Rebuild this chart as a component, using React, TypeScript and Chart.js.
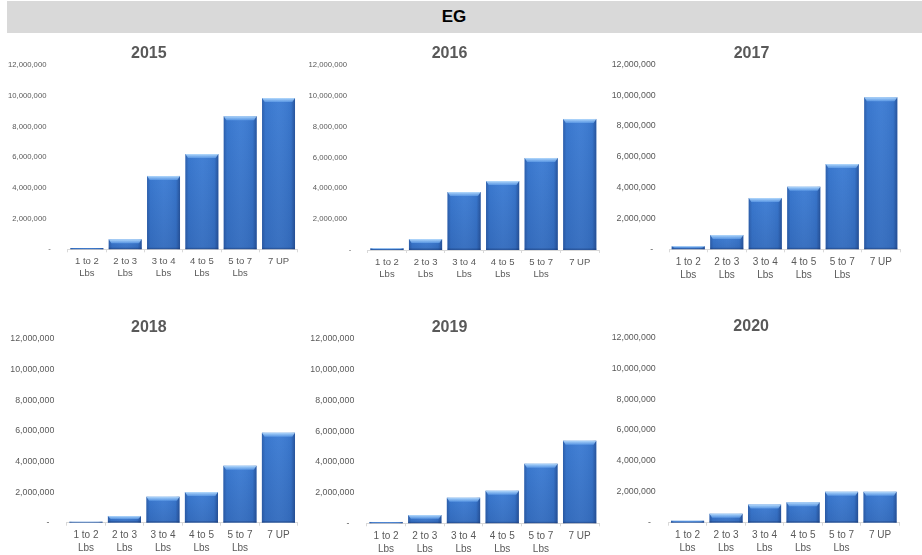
import React, { useEffect, useRef } from "react";
import { Chart, registerables } from "chart.js";

Chart.register(...registerables);

// ---------- data ----------
const headerTitle = "EG";
const categories: (string | string[])[] = [
  ["1 to 2", "Lbs"],
  ["2 to 3", "Lbs"],
  ["3 to 4", "Lbs"],
  ["4 to 5", "Lbs"],
  ["5 to 7", "Lbs"],
  "7 UP",
];
const years = ["2015", "2016", "2017", "2018", "2019", "2020"];
const values2015 = [80000, 650000, 4780000, 6200000, 8670000, 9850000];
const values2016 = [110000, 710000, 3760000, 4470000, 5970000, 8500000];
const values2017 = [190000, 930000, 3330000, 4060000, 5530000, 9860000];
const values2018 = [70000, 440000, 1700000, 2000000, 3720000, 5880000];
const values2019 = [90000, 540000, 1670000, 2120000, 3880000, 5380000];
const values2020 = [130000, 580000, 1170000, 1320000, 2000000, 2000000];
const seriesByYear = [values2015, values2016, values2017, values2018, values2019, values2020];
const yMin = 0;
const yMax = 12000000;
const yStep = 2000000;

// ---------- layout (positions / styles only) ----------
type Panel = {
  left: number; top: number; w: number; h: number;
  yWidth: number; yPad: number; padR: number;
  titleTop: number; titleBottom: number; baseline: number;
  yFont: number; xFont: number; numPad: string; dashPad: string;
};
const panels: Panel[] = [
  { left: 0, top: 40, w: 312, h: 245, yWidth: 67.7, yPad: 17, padR: 14.3, titleTop: 4.4, titleBottom: 1.4, baseline: 249.3, yFont: 7.7, xFont: 9.5, numPad: "  ", dashPad: "" },
  { left: 300, top: 40, w: 312, h: 245, yWidth: 67.7, yPad: 16.4, padR: 13, titleTop: 4.4, titleBottom: 1.4, baseline: 250, yFont: 7.7, xFont: 9.5, numPad: "  ", dashPad: "" },
  { left: 603, top: 40, w: 309, h: 245, yWidth: 66, yPad: 13.3, padR: 12, titleTop: 3.6, titleBottom: 1.5, baseline: 249.3, yFont: 8.8, xFont: 10, numPad: "", dashPad: " " },
  { left: 0, top: 310, w: 311, h: 245, yWidth: 66.7, yPad: 12.4, padR: 13.3, titleTop: 7.7, titleBottom: 2.1, baseline: 522.7, yFont: 8.8, xFont: 10, numPad: "", dashPad: "  " },
  { left: 300, top: 310, w: 311, h: 245, yWidth: 66.7, yPad: 12.4, padR: 12, titleTop: 7.7, titleBottom: 2.1, baseline: 523.3, yFont: 8.8, xFont: 10, numPad: "", dashPad: "  " },
  { left: 603, top: 310, w: 308, h: 245, yWidth: 65.3, yPad: 12.6, padR: 11.7, titleTop: 6.7, titleBottom: 1.4, baseline: 522.7, yFont: 8.8, xFont: 10, numPad: "", dashPad: "  " },
];

const FONT = "'Liberation Sans', Arial, sans-serif";
const BAR_COLOR = "#3b7bd3";
const TEXT_COLOR = "#595959";

const bevelPlugin = {
  id: "bevel",
  afterDatasetsDraw(chart: any) {
    const ctx = chart.ctx as CanvasRenderingContext2D;
    const meta = chart.getDatasetMeta(0);
    meta.data.forEach((bar: any) => {
      const { x, y, base, width } = bar.getProps(["x", "y", "base", "width"], true);
      const l = x - width / 2;
      const r = x + width / 2;
      const t = Math.min(y, base);
      const b = Math.max(y, base);
      const h = b - t;
      if (h < 0.5) return;
      ctx.save();
      // side shading
      const g = ctx.createLinearGradient(l, 0, r, 0);
      g.addColorStop(0, "rgba(20,45,100,0.35)");
      g.addColorStop(0.1, "rgba(20,45,100,0.05)");
      g.addColorStop(0.5, "rgba(255,255,255,0.04)");
      g.addColorStop(0.88, "rgba(20,45,100,0.08)");
      g.addColorStop(1, "rgba(20,45,100,0.5)");
      ctx.fillStyle = g;
      ctx.fillRect(l, t, width, h);
      // vertical darkening toward bottom
      const gv = ctx.createLinearGradient(0, t, 0, b);
      gv.addColorStop(0, "rgba(20,45,100,0)");
      gv.addColorStop(1, "rgba(20,45,100,0.18)");
      ctx.fillStyle = gv;
      ctx.fillRect(l, t, width, h);
      // top bevel highlight
      const hh = Math.min(4, h * 0.45);
      if (hh > 0.6) {
        const inset = Math.min(3, width * 0.08);
        ctx.beginPath();
        ctx.moveTo(l, t);
        ctx.lineTo(r, t);
        ctx.lineTo(r - inset, t + hh);
        ctx.lineTo(l + inset, t + hh);
        ctx.closePath();
        const g2 = ctx.createLinearGradient(0, t, 0, t + hh);
        g2.addColorStop(0, "rgba(190,225,255,0.95)");
        g2.addColorStop(1, "rgba(110,170,240,0.6)");
        ctx.fillStyle = g2;
        ctx.fill();
      }
      // bottom edge
      ctx.fillStyle = "rgba(20,45,100,0.35)";
      ctx.fillRect(l, b - Math.min(1.5, h * 0.3), width, Math.min(1.5, h * 0.3));
      ctx.restore();
    });
  },
};

function fmt(v: number): string {
  return Math.round(v).toString().replace(/\B(?=(\d{3})+(?!\d))/g, ",");
}

function MiniChart({ idx }: { idx: number }) {
  const ref = useRef<HTMLCanvasElement | null>(null);
  const p = panels[idx];
  useEffect(() => {
    if (!ref.current) return;
    const xHeight = p.top + p.h - p.baseline;
    const chart = new Chart(ref.current, {
      type: "bar",
      data: {
        labels: categories as any,
        datasets: [
          {
            data: seriesByYear[idx],
            backgroundColor: BAR_COLOR,
            borderWidth: 0,
            barPercentage: 0.86,
            categoryPercentage: 1,
          },
        ],
      },
      options: {
        animation: false,
        responsive: false,
        maintainAspectRatio: false,
        devicePixelRatio: 1,
        layout: { padding: { left: 0, right: p.padR, top: 0, bottom: 0 } },
        plugins: {
          legend: { display: false },
          tooltip: { enabled: false },
          title: {
            display: true,
            text: years[idx],
            color: TEXT_COLOR,
            font: { family: FONT, size: 16, weight: "bold", lineHeight: 1.2 },
            padding: { top: p.titleTop, bottom: p.titleBottom },
          },
        },
        scales: {
          x: {
            grid: {
              display: true,
              drawOnChartArea: false,
              drawTicks: true,
              tickLength: 3,
              color: "#d9d9d9",
              offset: true,
            },
            border: { display: true, color: "#d9d9d9", width: 1 },
            ticks: {
              color: TEXT_COLOR,
              font: { family: FONT, size: p.xFont, lineHeight: 1.3 },
              padding: 3,
              maxRotation: 0,
              minRotation: 0,
              autoSkip: false,
            },
            afterFit: (s: any) => {
              s.height = xHeight;
            },
          },
          y: {
            min: yMin,
            max: yMax,
            grid: { display: false, drawTicks: false },
            border: { display: false },
            ticks: {
              stepSize: yStep,
              color: TEXT_COLOR,
              font: { family: FONT, size: p.yFont },
              padding: p.yPad,
              callback: (v: any) => (Number(v) === 0 ? "-" + p.dashPad : fmt(Number(v)) + p.numPad),
            },
            afterFit: (s: any) => {
              s.width = p.yWidth;
            },
          },
        },
      } as any,
      plugins: [bevelPlugin],
    });
    return () => chart.destroy();
  }, [idx]);
  return (
    <canvas
      ref={ref}
      width={p.w}
      height={p.h}
      style={{ position: "absolute", left: p.left, top: p.top, width: p.w, height: p.h }}
    />
  );
}

export default function App() {
  return (
    <div
      style={{
        position: "absolute",
        left: 0,
        top: 0,
        width: 922,
        height: 555,
        background: "#ffffff",
        overflow: "hidden",
      }}
    >
      <div
        style={{
          position: "absolute",
          left: 7,
          top: 1,
          width: 915,
          height: 32,
          background: "#d9d9d9",
        }}
      />
      <div
        style={{
          position: "absolute",
          left: 404,
          top: 1,
          width: 100,
          height: 32,
          lineHeight: "32px",
          textAlign: "center",
          fontFamily: FONT,
          fontWeight: "bold",
          fontSize: 17,
          color: "#000000",
        }}
      >
        {headerTitle}
      </div>
      {years.map((_, i) => (
        <MiniChart key={i} idx={i} />
      ))}
    </div>
  );
}
